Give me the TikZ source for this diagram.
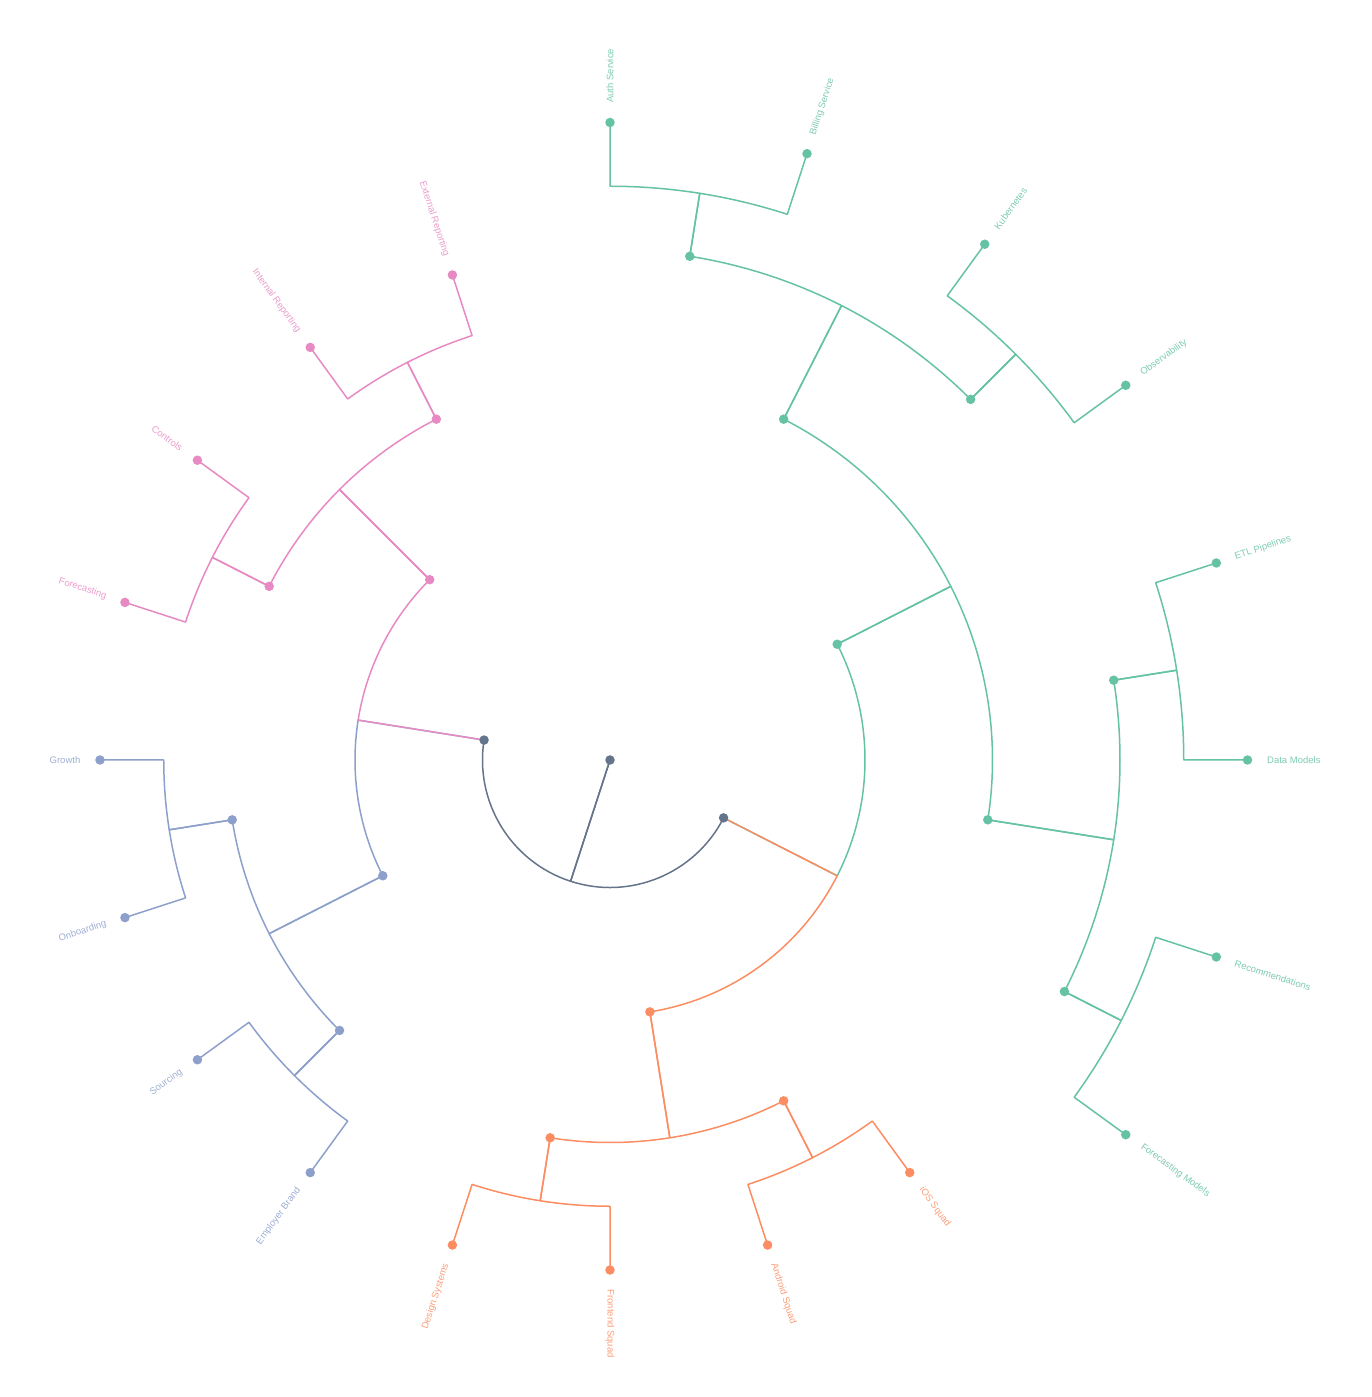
\documentclass[tikz,border=0pt]{standalone}
\usepackage{fontspec}
\setmainfont{Liberation Sans}
\definecolor{cgray}{HTML}{64748B}
\definecolor{cgreen}{HTML}{66C2A5}
\definecolor{corange}{HTML}{FC8D62}
\definecolor{cblue}{HTML}{8DA0CB}
\definecolor{cpink}{HTML}{E78AC3}
\newcommand{\lnk}[6]{\draw[link,#1] (#2) -- (#3:#6) arc[start angle=#3, end angle=#5, radius=#6] -- (#4);}
\tikzset{
  link/.style={line width=1.5pt, line join=round},
  dot/.style={circle, inner sep=0pt, minimum size=9.5pt, draw=none, fill=#1},
  lblR/.style={anchor=west, inner sep=0pt, text=#1, text opacity=0.85, font=\fontsize{9.5}{11}\selectfont},
  lblL/.style={anchor=east, inner sep=0pt, text=#1, text opacity=0.85, font=\fontsize{9.5}{11}\selectfont},
}
\begin{document}
\begin{tikzpicture}[x=1pt,y=1pt]
\useasboundingbox (-610,-637) rectangle (761,760);
% coordinates (math angle : radius)
\coordinate (root) at (0,0);
\coordinate (A) at (-189:127.5);
\coordinate (B) at (-27:127.5);
\coordinate (A1) at (-225:255);
\coordinate (A2) at (-153:255);
\coordinate (B1) at (27:255);
\coordinate (B2) at (-81:255);
\coordinate (A1a) at (-243:382.5);
\coordinate (A1b) at (-207:382.5);
\coordinate (A2a) at (-171:382.5);
\coordinate (A2b) at (-135:382.5);
\coordinate (B1a) at (63:382.5);
\coordinate (B1b) at (-9:382.5);
\coordinate (B2a) at (-99:382.5);
\coordinate (B2b) at (-63:382.5);
\coordinate (B1a1) at (81:510);
\coordinate (B1a2) at (45:510);
\coordinate (B1b1) at (9:510);
\coordinate (B1b2) at (-27:510);
% leaves at depth 4
\coordinate (ios) at (-54:510);
\coordinate (android) at (-72:510);
\coordinate (frontend) at (-90:510);
\coordinate (design) at (-108:510);
\coordinate (employer) at (-126:510);
\coordinate (sourcing) at (-144:510);
\coordinate (onboarding) at (-162:510);
\coordinate (growth) at (-180:510);
\coordinate (forecasting) at (-198:510);
\coordinate (controls) at (-216:510);
\coordinate (internal) at (-234:510);
\coordinate (external) at (-252:510);
% leaves at depth 5
\coordinate (auth) at (90:637.5);
\coordinate (billing) at (72:637.5);
\coordinate (kube) at (54:637.5);
\coordinate (obs) at (36:637.5);
\coordinate (etl) at (18:637.5);
\coordinate (datam) at (0:637.5);
\coordinate (rec) at (-18:637.5);
\coordinate (fm) at (-36:637.5);
% links, breadth first
\lnk{cgray}{root}{-108}{B}{-27}{127.5}
\lnk{cgray}{root}{-108}{A}{-189}{127.5}
\lnk{cgreen}{B}{-27}{B1}{27}{255}
\lnk{corange}{B}{-27}{B2}{-81}{255}
\lnk{cblue}{A}{-189}{A2}{-153}{255}
\lnk{cpink}{A}{-189}{A1}{-225}{255}
\lnk{cgreen}{B1}{27}{B1a}{63}{382.5}
\lnk{cgreen}{B1}{27}{B1b}{-9}{382.5}
\lnk{corange}{B2}{-81}{B2b}{-63}{382.5}
\lnk{corange}{B2}{-81}{B2a}{-99}{382.5}
\lnk{cblue}{A2}{-153}{A2b}{-135}{382.5}
\lnk{cblue}{A2}{-153}{A2a}{-171}{382.5}
\lnk{cpink}{A1}{-225}{A1b}{-207}{382.5}
\lnk{cpink}{A1}{-225}{A1a}{-243}{382.5}
\lnk{cgreen}{B1a}{63}{B1a1}{81}{510}
\lnk{cgreen}{B1a}{63}{B1a2}{45}{510}
\lnk{cgreen}{B1b}{-9}{B1b1}{9}{510}
\lnk{cgreen}{B1b}{-9}{B1b2}{-27}{510}
\lnk{corange}{B2b}{-63}{ios}{-54}{446.25}
\lnk{corange}{B2b}{-63}{android}{-72}{446.25}
\lnk{corange}{B2a}{-99}{frontend}{-90}{446.25}
\lnk{corange}{B2a}{-99}{design}{-108}{446.25}
\lnk{cblue}{A2b}{-135}{employer}{-126}{446.25}
\lnk{cblue}{A2b}{-135}{sourcing}{-144}{446.25}
\lnk{cblue}{A2a}{-171}{onboarding}{-162}{446.25}
\lnk{cblue}{A2a}{-171}{growth}{-180}{446.25}
\lnk{cpink}{A1b}{-207}{forecasting}{-198}{446.25}
\lnk{cpink}{A1b}{-207}{controls}{-216}{446.25}
\lnk{cpink}{A1a}{-243}{internal}{-234}{446.25}
\lnk{cpink}{A1a}{-243}{external}{-252}{446.25}
\lnk{cgreen}{B1a1}{81}{auth}{90}{573.75}
\lnk{cgreen}{B1a1}{81}{billing}{72}{573.75}
\lnk{cgreen}{B1a2}{45}{kube}{54}{573.75}
\lnk{cgreen}{B1a2}{45}{obs}{36}{573.75}
\lnk{cgreen}{B1b1}{9}{etl}{18}{573.75}
\lnk{cgreen}{B1b1}{9}{datam}{0}{573.75}
\lnk{cgreen}{B1b2}{-27}{rec}{-18}{573.75}
\lnk{cgreen}{B1b2}{-27}{fm}{-36}{573.75}
% dots
\foreach \n in {root,A,B} \node[dot=cgray] (d-\n) at (\n) {};
\foreach \n in {B1,B1a,B1b,B1a1,B1a2,B1b1,B1b2,auth,billing,kube,obs,etl,datam,rec,fm} \node[dot=cgreen] (d-\n) at (\n) {};
\foreach \n in {B2,B2a,B2b,ios,android,frontend,design} \node[dot=corange] (d-\n) at (\n) {};
\foreach \n in {A2,A2a,A2b,employer,sourcing,onboarding,growth} \node[dot=cblue] (d-\n) at (\n) {};
\foreach \n in {A1,A1a,A1b,forecasting,controls,internal,external} \node[dot=cpink] (d-\n) at (\n) {};
% labels
\node[lblR=cgreen, rotate=90] (t-auth) at (90:657) {Auth Service};
\node[lblR=cgreen, rotate=72] (t-billing) at (72:657) {Billing Service};
\node[lblR=cgreen, rotate=54] (t-kube) at (54:657) {Kubernetes};
\node[lblR=cgreen, rotate=36] (t-obs) at (36:657) {Observability};
\node[lblR=cgreen, rotate=18] (t-etl) at (18:657) {ETL Pipelines};
\node[lblR=cgreen, rotate=0] (t-datam) at (0:657) {Data Models};
\node[lblR=cgreen, rotate=-18] (t-rec) at (-18:657) {Recommendations};
\node[lblR=cgreen, rotate=-36] (t-fm) at (-36:657) {Forecasting Models};
\node[lblR=corange, rotate=-54] (t-ios) at (-54:529.5) {iOS Squad};
\node[lblR=corange, rotate=-72] (t-android) at (-72:529.5) {Android Squad};
\node[lblR=corange, rotate=-90] (t-frontend) at (-90:529.5) {Frontend Squad};
\node[lblL=corange, rotate=72] (t-design) at (-108:529.5) {Design Systems};
\node[lblL=cblue, rotate=54] (t-employer) at (-126:529.5) {Employer Brand};
\node[lblL=cblue, rotate=36] (t-sourcing) at (-144:529.5) {Sourcing};
\node[lblL=cblue, rotate=18] (t-onboarding) at (-162:529.5) {Onboarding};
\node[lblL=cblue, rotate=0] (t-growth) at (-180:529.5) {Growth};
\node[lblL=cpink, rotate=-18] (t-forecasting) at (-198:529.5) {Forecasting};
\node[lblL=cpink, rotate=-36] (t-controls) at (-216:529.5) {Controls};
\node[lblL=cpink, rotate=-54] (t-internal) at (-234:529.5) {Internal Reporting};
\node[lblL=cpink, rotate=-72] (t-external) at (-252:529.5) {External Reporting};
\end{tikzpicture}
\end{document}
